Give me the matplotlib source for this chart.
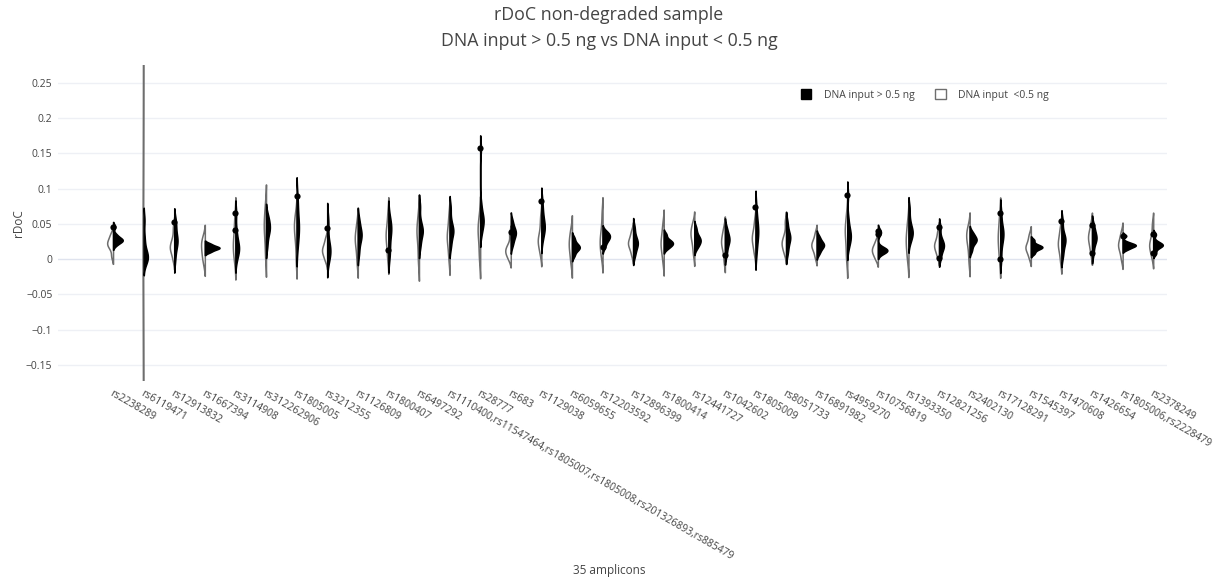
import numpy as np
import matplotlib
matplotlib.use("Agg")
import matplotlib.pyplot as plt
from matplotlib.patches import Patch

plt.rcParams['font.family'] = ['Open Sans', 'DejaVu Sans']

# ---------------- data ----------------
amplicons = [
    "rs2238289", "rs6119471", "rs12913832", "rs1667394", "rs3114908",
    "rs312262906", "rs1805005", "rs3212355", "rs1126809", "rs1800407",
    "rs6497292", "rs1110400,rs11547464,rs1805007,rs1805008,rs201326893,rs885479",
    "rs28777", "rs683", "rs1129038", "rs6059655", "rs12203592", "rs12896399",
    "rs1800414", "rs12441727", "rs1042602", "rs1805009", "rs8051733",
    "rs16891982", "rs4959270", "rs10756819", "rs1393350", "rs12821256",
    "rs2402130", "rs17128291", "rs1545397", "rs1470608", "rs1426654",
    "rs1805006,rs2228479", "rs2378249",
]

# rDoC samples, DNA input < 0.5 ng (outlined half)
low_input = [
    [0.004, 0.015, 0.02, 0.022, 0.025, 0.03, 0.036],
    [-0.35, -0.1, 0.01, 0.02, 0.03, 0.15, 0.4],
    [0.0, 0.01, 0.015, 0.018, 0.022, 0.03, 0.045],
    [-0.005, 0.005, 0.012, 0.02, 0.025, 0.03],
    [-0.003, 0.008, 0.015, 0.02, 0.025, 0.035, 0.048, 0.062],
    [0.003, 0.018, 0.035, 0.042, 0.048, 0.055, 0.066, 0.078],
    [-0.002, 0.02, 0.035, 0.042, 0.048, 0.055, 0.065],
    [-0.002, 0.005, 0.01, 0.013, 0.016, 0.022, 0.03],
    [-0.005, 0.01, 0.022, 0.028, 0.032, 0.04, 0.052],
    [0.002, 0.015, 0.028, 0.033, 0.038, 0.048, 0.065],
    [-0.004, 0.012, 0.03, 0.038, 0.042, 0.05, 0.065],
    [0.0, 0.015, 0.027, 0.032, 0.036, 0.048, 0.063],
    [0.0, 0.012, 0.03, 0.038, 0.043, 0.05, 0.062],
    [0.0, 0.006, 0.01, 0.013, 0.016, 0.022, 0.036],
    [0.008, 0.018, 0.025, 0.028, 0.032, 0.045, 0.06],
    [-0.006, 0.005, 0.015, 0.02, 0.025, 0.033, 0.042],
    [0.004, 0.012, 0.022, 0.027, 0.032, 0.045, 0.065],
    [0.006, 0.015, 0.02, 0.023, 0.026, 0.032, 0.04],
    [-0.003, 0.01, 0.018, 0.023, 0.028, 0.038, 0.05],
    [0.008, 0.02, 0.03, 0.034, 0.038, 0.045, 0.05],
    [-0.002, 0.012, 0.02, 0.024, 0.028, 0.035, 0.044],
    [0.008, 0.018, 0.026, 0.03, 0.034, 0.042, 0.055],
    [0.008, 0.015, 0.021, 0.024, 0.027, 0.036, 0.053],
    [0.003, 0.012, 0.017, 0.02, 0.023, 0.028, 0.037],
    [0.0, 0.012, 0.03, 0.038, 0.042, 0.05, 0.065],
    [0.0, 0.006, 0.01, 0.013, 0.016, 0.02, 0.027],
    [-0.002, 0.01, 0.02, 0.027, 0.032, 0.042, 0.055],
    [0.004, 0.012, 0.017, 0.02, 0.023, 0.03, 0.04],
    [-0.004, 0.012, 0.024, 0.03, 0.034, 0.04, 0.046],
    [-0.001, 0.012, 0.024, 0.03, 0.036, 0.048, 0.062],
    [0.002, 0.01, 0.015, 0.017, 0.02, 0.027, 0.035],
    [-0.003, 0.01, 0.018, 0.022, 0.026, 0.035, 0.045],
    [0.008, 0.018, 0.026, 0.03, 0.034, 0.04, 0.05],
    [0.0, 0.01, 0.017, 0.02, 0.023, 0.03, 0.038],
    [0.003, 0.012, 0.018, 0.021, 0.025, 0.035, 0.05],
]

# rDoC samples, DNA input > 0.5 ng (filled half)
high_input = [
    [0.02, 0.024, 0.026, 0.027, 0.028, 0.031, 0.035, 0.046],
    [-0.005, 0.0, 0.002, 0.004, 0.007, 0.015, 0.03, 0.055],
    [0.0, 0.015, 0.022, 0.026, 0.029, 0.035, 0.05, 0.053],
    [0.01, 0.013, 0.015, 0.016, 0.017, 0.019, 0.022],
    [-0.001, 0.008, 0.012, 0.015, 0.018, 0.022, 0.03, 0.041, 0.065],
    [0.018, 0.032, 0.04, 0.044, 0.048, 0.055, 0.062],
    [0.017, 0.03, 0.04, 0.045, 0.05, 0.06, 0.075, 0.089],
    [-0.004, 0.005, 0.01, 0.013, 0.017, 0.025, 0.044, 0.058],
    [0.008, 0.022, 0.03, 0.034, 0.038, 0.045, 0.056],
    [0.006, 0.013, 0.032, 0.04, 0.044, 0.048, 0.058],
    [0.018, 0.03, 0.038, 0.041, 0.044, 0.055, 0.075],
    [0.018, 0.03, 0.038, 0.041, 0.044, 0.055, 0.073],
    [0.036, 0.045, 0.052, 0.055, 0.058, 0.065, 0.078, 0.157],
    [0.02, 0.028, 0.034, 0.037, 0.04, 0.045, 0.054],
    [0.028, 0.038, 0.043, 0.046, 0.05, 0.058, 0.068, 0.082],
    [0.005, 0.012, 0.015, 0.017, 0.019, 0.023, 0.03],
    [0.017, 0.024, 0.028, 0.031, 0.033, 0.036, 0.039],
    [0.005, 0.014, 0.02, 0.023, 0.026, 0.033, 0.045],
    [0.015, 0.019, 0.021, 0.023, 0.025, 0.028, 0.035],
    [0.016, 0.021, 0.025, 0.027, 0.03, 0.035, 0.044],
    [0.006, 0.016, 0.024, 0.027, 0.03, 0.036, 0.044],
    [0.008, 0.022, 0.032, 0.037, 0.041, 0.05, 0.057, 0.074],
    [0.008, 0.018, 0.027, 0.03, 0.033, 0.04, 0.052],
    [0.008, 0.014, 0.018, 0.02, 0.022, 0.026, 0.032],
    [0.018, 0.026, 0.031, 0.034, 0.037, 0.045, 0.058, 0.091],
    [0.009, 0.011, 0.012, 0.013, 0.014, 0.015, 0.036, 0.04],
    [0.025, 0.032, 0.037, 0.04, 0.044, 0.055, 0.072],
    [0.002, 0.012, 0.017, 0.02, 0.023, 0.03, 0.045],
    [0.012, 0.02, 0.025, 0.027, 0.029, 0.033, 0.038],
    [0.0, 0.02, 0.03, 0.035, 0.04, 0.047, 0.065],
    [0.008, 0.013, 0.016, 0.017, 0.018, 0.021, 0.027],
    [0.004, 0.015, 0.024, 0.027, 0.03, 0.038, 0.054],
    [0.008, 0.02, 0.027, 0.03, 0.033, 0.04, 0.048],
    [0.014, 0.017, 0.019, 0.02, 0.021, 0.024, 0.033],
    [0.008, 0.015, 0.019, 0.02, 0.021, 0.025, 0.035],
]

# outlier points shown as dots (amplicon index, rDoC)
outlier_idx = [0, 2, 4, 4, 6, 7, 9, 12, 13, 14, 16, 20, 21, 24, 25, 25,
               27, 27, 29, 29, 31, 32, 32, 33, 34, 34]
outlier_val = [0.046, 0.053, 0.041, 0.065, 0.089, 0.044, 0.013, 0.157, 0.038,
               0.082, 0.017, 0.006, 0.074, 0.091, 0.036, 0.040, 0.045, 0.002,
               0.065, 0.0, 0.054, 0.048, 0.008, 0.033, 0.035, 0.008]

y_ticks = [-0.15, -0.1, -0.05, 0, 0.05, 0.1, 0.15, 0.2, 0.25]
y_tick_labels = ["\u22120.15", "\u22120.1", "\u22120.05", "0", "0.05", "0.1",
                 "0.15", "0.2", "0.25"]


def kde(samples, npts=300):
    s = np.asarray(samples, dtype=float)
    n = len(s)
    sd = s.std(ddof=1)
    q75, q25 = np.percentile(s, [75, 25])
    iqr = q75 - q25
    a = min(sd, iqr / 1.349) if iqr > 0 else sd
    bw = 1.059 * a * n ** (-0.2)
    ys = np.linspace(s.min() - 2 * bw, s.max() + 2 * bw, npts)
    d = np.exp(-0.5 * ((ys[:, None] - s[None, :]) / bw) ** 2).sum(1)
    d /= n * bw * np.sqrt(2 * np.pi)
    return ys, d


# ---------------- figure ----------------
fig = plt.figure(figsize=(12.18, 5.80), dpi=100)
ax = fig.add_axes([0.0476, 0.343, 0.9105, 0.545])

curves_lo = [kde(s) for s in low_input]
curves_hi = [kde(s) for s in high_input]
dmax = max(max(d.max() for _, d in curves_lo), max(d.max() for _, d in curves_hi))
scale = 0.48 / dmax

for i, ((yl, dl), (yh, dh)) in enumerate(zip(curves_lo, curves_hi)):
    ax.fill_betweenx(yl, i - dl * scale, i, facecolor='white',
                     edgecolor='#6e6e6e', linewidth=1.1, zorder=3)
    ax.fill_betweenx(yh, i, i + dh * scale, facecolor='black',
                     edgecolor='black', linewidth=1.1, zorder=4)

ax.scatter(outlier_idx, outlier_val, s=20, color='black', zorder=5,
           linewidths=0)

ax.set_xlim(-1.8, 34.45)
ax.set_ylim(-0.173, 0.2755)
ax.set_yticks(y_ticks)
ax.set_yticklabels(y_tick_labels)
ax.set_xticks(range(len(amplicons)))
ax.set_xticklabels(amplicons, rotation=-30, ha='left', va='top',
                   rotation_mode='anchor')
ax.tick_params(axis='both', length=0, labelsize=7.5, colors='#444444')
ax.tick_params(axis='x', pad=5)
ax.tick_params(axis='y', pad=4)
for sp in ax.spines.values():
    sp.set_visible(False)
for t in y_ticks:
    ax.axhline(t, color='#dfe3ee' if t == 0 else '#eef0f5', lw=1, zorder=1)

ax.set_ylabel("rDoC", fontsize=8.5, color='#444444', labelpad=1)
fig.text(0.5, 0.017, "35 amplicons", ha='center', va='center',
         fontsize=8.5, color='#444444')
fig.text(0.5, 0.974, "rDoC non-degraded sample", ha='center', va='center',
         fontsize=12.8, color='#444444')
fig.text(0.5, 0.929, "DNA input > 0.5 ng vs DNA input < 0.5 ng", ha='center',
         va='center', fontsize=12.8, color='#444444')

handles = [Patch(facecolor='black', edgecolor='black'),
           Patch(facecolor='white', edgecolor='#6e6e6e')]
leg = ax.legend(handles, ["DNA input > 0.5 ng", "DNA input  <0.5 ng"],
                ncol=2, loc='center right', bbox_to_anchor=(0.902, 0.905),
                fontsize=7.5, frameon=True, handlelength=1.0, handleheight=1.0,
                columnspacing=2.0, handletextpad=1.2, borderpad=0.4)
leg.get_frame().set_edgecolor('none')
leg.get_frame().set_facecolor('white')
leg.get_frame().set_alpha(1)
for t in leg.get_texts():
    t.set_color('#444444')

fig.savefig("out.png", dpi=100)
